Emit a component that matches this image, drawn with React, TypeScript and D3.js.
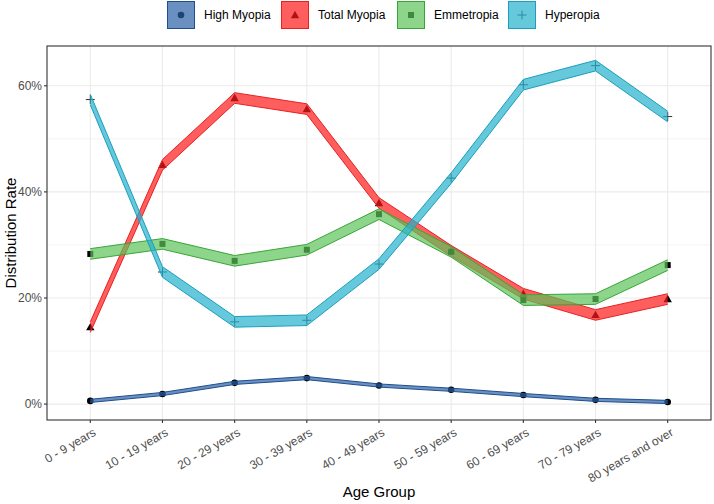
import React from "react";
import * as d3 from "d3";

const categories = [
  "0 - 9 years", "10 - 19 years", "20 - 29 years", "30 - 39 years", "40 - 49 years",
  "50 - 59 years", "60 - 69 years", "70 - 79 years", "80 years and over",
];
const seriesNames = ["High Myopia", "Total Myopia", "Emmetropia", "Hyperopia"];
const highMyopia = [0.6, 1.9, 4.0, 4.9, 3.5, 2.7, 1.7, 0.8, 0.4];
const totalMyopia = [14.5, 45.1, 57.7, 55.6, 37.9, 28.9, 20.8, 16.8, 19.8];
const emmetropia = [28.3, 30.2, 27.0, 29.1, 35.8, 28.7, 19.6, 19.8, 26.2];
const hyperopia = [57.4, 24.9, 15.5, 15.8, 26.4, 42.6, 60.2, 63.8, 54.2];
const halfWidth = [0.3, 1.0, 1.0, 1.0];
const yTicks = [0, 20, 40, 60];
const yMinor = [10, 30, 50];

const fills = ["#2b5fa6", "#ff1a1a", "#5cc35a", "#25b1cc"];
const strokes = ["#1f4e8c", "#e82020", "#3aa537", "#1b9fbf"];
const shapes = ["circle", "triangle", "square", "plus"];

const W = 714, H = 504;
const PL = 47, PR = 711, PT = 46, PB = 420;

function Marker({ shape, x, y }: { shape: string; x: number; y: number }) {
  if (shape === "circle") return <circle cx={x} cy={y} r={3.3} fill="#000" />;
  if (shape === "triangle") {
    const s = 4.2;
    return <path d={`M${x},${y - s}L${x + s},${y + s * 0.75}L${x - s},${y + s * 0.75}Z`} fill="#000" />;
  }
  if (shape === "square") return <rect x={x - 3} y={y - 3} width={6} height={6} fill="#000" />;
  return <path d={`M${x - 4.5},${y}H${x + 4.5}M${x},${y - 4.5}V${y + 4.5}`} stroke="#333" strokeWidth={1} fill="none" />;
}

export default function App() {
  const data = [highMyopia, totalMyopia, emmetropia, hyperopia];
  const x = d3.scalePoint<string>().domain(categories).range([PL, PR]).padding(0.6);
  const y = d3.scaleLinear().domain([-3.0, 67.5]).range([PB, PT]);

  return (
    <svg width={W} height={H} style={{ position: "absolute", left: 0, top: 0, fontFamily: "Liberation Sans, Arial, sans-serif" }}>
      <rect x={0} y={0} width={W} height={H} fill="#fff" />
      {yMinor.map((t) => (
        <line key={"mn" + t} x1={PL} x2={PR} y1={y(t)} y2={y(t)} stroke="#ebebeb" strokeWidth={0.6} />
      ))}
      {yTicks.map((t) => (
        <line key={"mj" + t} x1={PL} x2={PR} y1={y(t)} y2={y(t)} stroke="#ebebeb" strokeWidth={1.1} />
      ))}
      {categories.map((c) => (
        <line key={"vx" + c} x1={x(c)} x2={x(c)} y1={PT} y2={PB} stroke="#ebebeb" strokeWidth={1.1} />
      ))}
      {data.map((vals, si) => {
        const pts = vals.map((v, i) => ({ x: x(categories[i]) as number, v }));
        const area = d3.area<{ x: number; v: number }>()
          .x((d) => d.x).y0((d) => y(d.v - halfWidth[si])).y1((d) => y(d.v + halfWidth[si]));
        const upper = d3.line<{ x: number; v: number }>().x((d) => d.x).y((d) => y(d.v + halfWidth[si]));
        const lower = d3.line<{ x: number; v: number }>().x((d) => d.x).y((d) => y(d.v - halfWidth[si]));
        return (
          <g key={seriesNames[si]}>
            {pts.map((p, i) => (
              <Marker key={i} shape={shapes[si]} x={p.x} y={y(p.v)} />
            ))}
            <path d={area(pts) || ""} fill={fills[si]} fillOpacity={0.7} />
            <path d={upper(pts) || ""} fill="none" stroke={strokes[si]} strokeWidth={1} />
            <path d={lower(pts) || ""} fill="none" stroke={strokes[si]} strokeWidth={1} />
          </g>
        );
      })}
      <rect x={PL} y={PT} width={PR - PL} height={PB - PT} fill="none" stroke="#333" strokeWidth={1.1} />
      {yTicks.map((t) => (
        <g key={"yt" + t}>
          <line x1={PL - 3} x2={PL} y1={y(t)} y2={y(t)} stroke="#333" strokeWidth={1.1} />
          <text x={PL - 5} y={y(t)} dy="0.35em" textAnchor="end" fontSize={12} fill="#4d4d4d">{t}%</text>
        </g>
      ))}
      {categories.map((c) => (
        <g key={"xt" + c}>
          <line x1={x(c)} x2={x(c)} y1={PB} y2={PB + 3} stroke="#333" strokeWidth={1.1} />
          <text transform={`translate(${(x(c) as number) + 2},${PB + 7}) rotate(-30)`} textAnchor="end" dy="0.75em" fontSize={12} fill="#4d4d4d">{c}</text>
        </g>
      ))}
      <text x={(PL + PR) / 2} y={497} textAnchor="middle" fontSize={15} fill="#000">Age Group</text>
      <text transform={`translate(16,${(PT + PB) / 2}) rotate(-90)`} textAnchor="middle" fontSize={15} fill="#000">Distribution Rate</text>
      {seriesNames.map((n, si) => {
        const kx = [167, 281, 397, 508][si];
        return (
          <g key={"lg" + n}>
            <rect x={kx} y={1} width={28} height={28} fill="#fff" />
            <Marker shape={shapes[si]} x={kx + 14} y={15} />
            <rect x={kx + 0.5} y={1.5} width={27} height={27} fill={fills[si]} fillOpacity={0.7} stroke={strokes[si]} strokeWidth={1} />
            <text x={kx + 37} y={15} dy="0.35em" fontSize={12} fill="#000">{n}</text>
          </g>
        );
      })}
    </svg>
  );
}
